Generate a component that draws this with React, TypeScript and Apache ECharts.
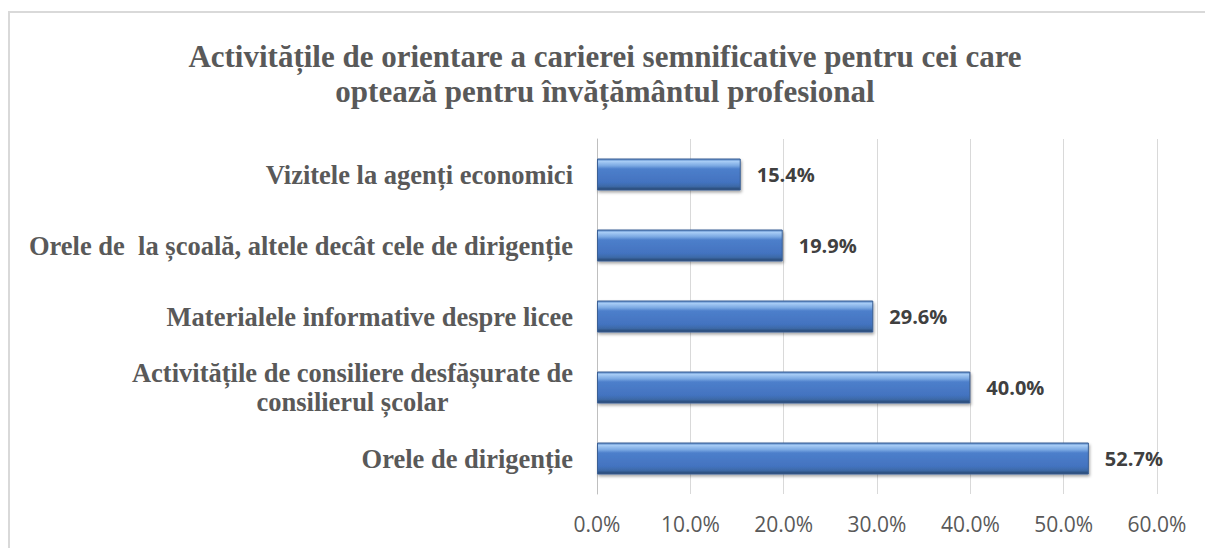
import React, { useEffect, useRef } from "react";
import * as echarts from "echarts";

const titleLines = [
  "Activitățile de orientare a carierei semnificative pentru cei care",
  "optează pentru învățământul profesional",
];
const categories = [
  "Vizitele la agenți economici",
  "Orele de  la școală, altele decât cele de dirigenție",
  "Materialele informative despre licee",
  "Activitățile de consiliere desfășurate de\nconsilierul școlar",
  "Orele de dirigenție",
];
const values = [0.154, 0.199, 0.296, 0.4, 0.527];
const axisMin = 0;
const axisMax = 0.6;
const axisStep = 0.1;

export default function App() {
  const ref = useRef<HTMLDivElement>(null);
  useEffect(() => {
    document.body.style.margin = "0";
    if (!ref.current) return;
    const chart = echarts.init(ref.current, undefined, { renderer: "svg" });
    const serif = "'Liberation Serif', 'Times New Roman', serif";
    const sans = "'Open Sans', 'Noto Sans', sans-serif";
    chart.setOption({
      animation: false,
      backgroundColor: "#ffffff",
      title: {
        text: titleLines.join("\n"),
        left: 600,
        textAlign: "center",
        top: 34,
        textStyle: {
          fontFamily: serif,
          fontWeight: "bold",
          fontSize: 31,
          lineHeight: 35,
          color: "#595959",
        },
      },
      graphic: [
        {
          type: "rect",
          shape: { x: 9, y: 12, width: 1300, height: 600 },
          style: { fill: "none", stroke: "#d9d9d9", lineWidth: 2 },
          silent: true,
        },
      ],
      grid: { left: 597, right: 48, top: 139, bottom: 54, containLabel: false },
      xAxis: {
        type: "value",
        min: axisMin,
        max: axisMax,
        interval: axisStep,
        axisLine: { show: false },
        axisTick: { show: false },
        splitLine: { show: true, lineStyle: { color: "#d9d9d9", width: 1 } },
        axisLabel: {
          margin: 19,
          color: "#595959",
          fontFamily: sans,
          fontSize: 21,
          formatter: (v: number) => (v * 100).toFixed(1) + "%",
        },
      },
      yAxis: {
        type: "category",
        inverse: true,
        data: categories,
        axisLine: { show: true, lineStyle: { color: "#bfbfbf", width: 1 } },
        axisTick: { show: false },
        axisLabel: {
          margin: 24,
          align: "right",
          formatter: (v: string) =>
            v
              .split("\n")
              .map((l) => (v.includes("\n") ? "{c|" + l + "}" : "{a|" + l + "}"))
              .join("\n"),
          rich: {
            a: {
              fontFamily: serif,
              fontWeight: "bold",
              fontSize: 26.5,
              color: "#595959",
            },
            c: {
              fontFamily: serif,
              fontWeight: "bold",
              fontSize: 26.5,
              color: "#595959",
              width: 441,
              align: "center",
              lineHeight: 29,
            },
          },
        },
      },
      series: [
        {
          type: "bar",
          data: values,
          barWidth: 32,
          itemStyle: {
            color: new echarts.graphic.LinearGradient(0, 0, 0, 1, [
              { offset: 0, color: "#5585c4" },
              { offset: 0.08, color: "#a6cbf5" },
              { offset: 0.22, color: "#7aa8e2" },
              { offset: 0.32, color: "#4d7fcb" },
              { offset: 0.75, color: "#4373c0" },
              { offset: 0.88, color: "#3d6aa8" },
              { offset: 1, color: "#24426b" },
            ]),
            borderColor: "#3a5f94",
            borderWidth: 1,
            shadowColor: "rgba(0,0,0,0.35)",
            shadowBlur: 3,
            shadowOffsetY: 2,
            shadowOffsetX: 1,
          },
          label: {
            show: true,
            position: "right",
            distance: 16,
            fontFamily: sans,
            fontWeight: "bold",
            fontSize: 20,
            color: "#404040",
            formatter: (p: any) => (p.value * 100).toFixed(1) + "%",
          },
        },
      ],
    });
    return () => chart.dispose();
  }, []);
  return <div ref={ref} style={{ width: 1205, height: 548 }} />;
}
